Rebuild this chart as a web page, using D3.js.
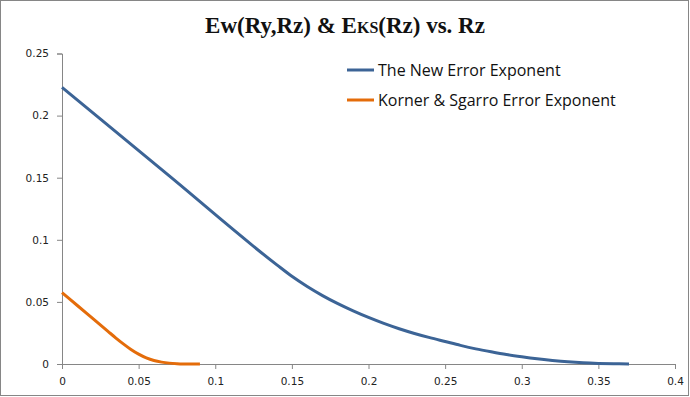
<!DOCTYPE html>
<html>
<head>
<meta charset="utf-8">
<script src="https://cdn.jsdelivr.net/npm/d3@7"></script>
<style>
  body { margin: 0; background: #fff; }
  svg { display: block; }
</style>
</head>
<body>
<script>
// values
const newX = [0, 0.07, 0.14, 0.15, 0.16, 0.17, 0.18, 0.19, 0.20, 0.21, 0.22, 0.23, 0.24, 0.25,
  0.26, 0.27, 0.28, 0.29, 0.30, 0.31, 0.32, 0.33, 0.34, 0.35, 0.36, 0.37];
const newY = [0.2228, 0.1514, 0.0800, 0.0706, 0.0624, 0.0551, 0.0486, 0.0428, 0.0375, 0.0327, 0.0284, 0.0246, 0.0212, 0.0181,
  0.0150, 0.0122, 0.0098, 0.0076, 0.0058, 0.0042, 0.0029, 0.0018, 0.0010, 0.0005, 0.0002, 0];
const ksX = [0, 0.01, 0.02, 0.03, 0.035, 0.04, 0.045, 0.05, 0.055, 0.06, 0.065, 0.07, 0.075, 0.08, 0.085, 0.09];
const ksY = [0.0575, 0.0471, 0.0367, 0.0263, 0.0211, 0.0162, 0.0117, 0.0079, 0.0049, 0.0028, 0.0015, 0.0007, 0.0003, 0.0001, 0, 0];
const seriesNames = ["The New Error Exponent", "Korner & Sgarro Error Exponent"];
const seriesColors = ["#3c6496", "#e46c0a"];
const xTicks = [0, 0.05, 0.1, 0.15, 0.2, 0.25, 0.3, 0.35, 0.4];
const yTicks = [0, 0.05, 0.1, 0.15, 0.2, 0.25];

const W = 690, H = 397;
const svg = d3.select("body").append("svg").attr("width", W).attr("height", H);

// outer frame
svg.append("rect").attr("x", 0.5).attr("y", 0.5).attr("width", W - 2).attr("height", H - 2)
  .attr("fill", "none").attr("stroke", "#868686");

const x = d3.scaleLinear().domain([0, 0.4]).range([62, 675]);
const y = d3.scaleLinear().domain([0, 0.25]).range([364, 53.5]);

const fmt = d => d === 0 ? "0" : String(d);
const tickFont = "'DejaVu Sans', sans-serif";

const gx = svg.append("g").attr("transform", "translate(0,364)")
  .call(d3.axisBottom(x).tickValues(xTicks).tickFormat(fmt).tickSize(5).tickPadding(9));
const gy = svg.append("g").attr("transform", "translate(62,0)")
  .call(d3.axisLeft(y).tickValues(yTicks).tickFormat(fmt).tickSize(5).tickPadding(8));
[gx, gy].forEach(g => {
  g.selectAll("path, line").attr("stroke", "#868686");
  g.selectAll("text").attr("fill", "#222").style("font-family", tickFont).style("font-size", "10.5px");
});

const line = d3.line().x(d => x(d[0])).y(d => y(d[1])).curve(d3.curveMonotoneX);
const series = [d3.zip(newX, newY), d3.zip(ksX, ksY)];
series.forEach((s, i) => {
  svg.append("path").datum(s).attr("d", line).attr("fill", "none")
    .attr("stroke", seriesColors[i]).attr("stroke-width", 3).attr("stroke-linejoin", "round");
});

// legend
seriesNames.forEach((n, i) => {
  const ly = 70 + i * 30;
  svg.append("line").attr("x1", 347).attr("x2", 374).attr("y1", ly).attr("y2", ly)
    .attr("stroke", seriesColors[i]).attr("stroke-width", 3);
  svg.append("text").attr("x", 378).attr("y", ly + 6).text(n)
    .style("font-family", "'Open Sans', sans-serif").style("font-size", "16px").attr("fill", "#111");
});

// title
const t = svg.append("text").attr("x", 345).attr("y", 33).attr("text-anchor", "middle")
  .style("font-family", "'Liberation Serif', serif").style("font-weight", "bold").style("font-size", "23px")
  .attr("fill", "#111");
t.append("tspan").text("Ew(Ry,Rz) & E");
t.append("tspan").text("KS").style("font-size", "16px");
t.append("tspan").text("(Rz) vs. Rz");
</script>
</body>
</html>
